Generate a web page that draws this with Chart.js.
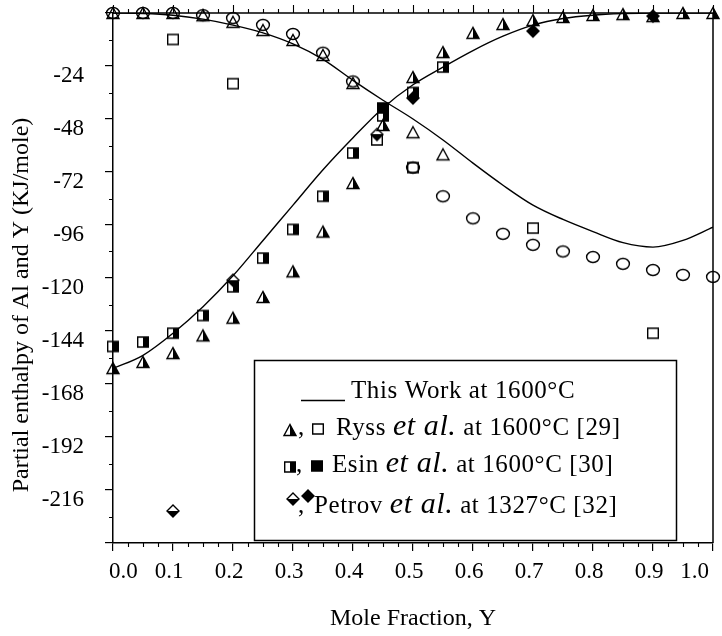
<!DOCTYPE html>
<html>
<head>
<meta charset="utf-8">
<title>Partial enthalpy of Al and Y</title>
<script src="https://cdn.jsdelivr.net/npm/chart.js@4.4.1/dist/chart.umd.min.js"></script>
<style>
    html, body { margin: 0; padding: 0; background: #fff; }
    #wrap { position: relative; width: 722px; height: 636px; }
</style>
</head>
<body>
<div id="wrap"><canvas id="enthalpyChart"></canvas></div>
<script>
(function () {
    'use strict';

    /* ===== Data (mole fraction Y, partial enthalpy kJ/mole) ===== */
    var curveX  = [0, 0.05, 0.1, 0.15, 0.2, 0.25, 0.3, 0.35, 0.4, 0.45, 0.5, 0.55, 0.6, 0.65, 0.7, 0.75, 0.8, 0.85, 0.9, 0.95, 1.0];
    var curveAl = [0, -0.2, -1, -2.8, -5.5, -9, -14, -21, -30.5, -39.5, -48, -57.5, -68, -78, -87, -93.5, -99, -104, -106, -103, -97];
    var curveY  = [-161, -155, -145, -133, -119, -103, -87, -71, -56.5, -43, -32.5, -24.5, -17, -10.5, -5.5, -2.5, -1, -0.3, 0, 0, 0];

    var circleX   = [0, 0.05, 0.1, 0.15, 0.2, 0.25, 0.3, 0.35, 0.4, 0.5, 0.55, 0.6, 0.65, 0.7, 0.75, 0.8, 0.85, 0.9, 0.95, 1.0];
    var circleVal = [0, 0, 0, -1, -2.3, -5.4, -9.5, -18, -31, -70, -83, -93, -100, -105, -108, -110.5, -113.6, -116.4, -118.6, -119.5];

    var openTriX   = [0, 0.05, 0.1, 0.15, 0.2, 0.25, 0.3, 0.35, 0.4, 0.5, 0.55];
    var openTriVal = [0, 0, 0, -1, -4, -7.7, -12.2, -19, -31.7, -54, -64];

    var openSqX   = [0.1, 0.2, 0.44, 0.5, 0.7, 0.9];
    var openSqVal = [-12, -32, -57.5, -70, -97.4, -145];

    var halfTriX   = [0, 0.05, 0.1, 0.15, 0.2, 0.25, 0.3, 0.35, 0.4, 0.45, 0.5, 0.55, 0.6, 0.65, 0.7, 0.75, 0.8, 0.85, 0.9, 0.95, 1.0];
    var halfTriVal = [-160.8, -158, -154, -146, -138, -128.6, -117, -99, -77, -50.7, -29, -17.7, -9, -5, -3.2, -1.8, -0.9, -0.5, -1.4, 0, 0];

    var halfSqX   = [0, 0.05, 0.1, 0.15, 0.2, 0.25, 0.3, 0.35, 0.4, 0.45, 0.5, 0.55];
    var halfSqVal = [-151, -149, -145, -137, -124, -111, -98, -83, -63.4, -46.6, -36, -24.5];

    var fullSqX   = [0.45];
    var fullSqVal = [-43];

    var halfDiaX   = [0.1, 0.2, 0.44];
    var halfDiaVal = [-225.5, -121, -55];

    var fullDiaX   = [0.5, 0.7, 0.9];
    var fullDiaVal = [-38.5, -8.2, -1.4];

    var xTicks = [0, 0.1, 0.2, 0.3, 0.4, 0.5, 0.6, 0.7, 0.8, 0.9, 1.0];
    var yTicks = [-216, -192, -168, -144, -120, -96, -72, -48, -24];

    /* ===== Style ===== */
    var SERIF = "'Liberation Serif','Times New Roman',serif";
    var INK = '#000';

    function pts(xs, ys) {
        var out = [];
        for (var i = 0; i < xs.length; i++) out.push({ x: xs[i], y: ys[i] });
        return out;
    }

    /* ===== Marker glyphs (half-filled shapes are not built in) ===== */
    function marker(kind) {
        var c = document.createElement('canvas');
        c.width = 16; c.height = 16;
        var g = c.getContext('2d');
        g.lineWidth = 1.4;
        g.strokeStyle = INK;
        g.fillStyle = INK;
        g.beginPath();
        if (kind === 'circle') {
            g.ellipse(8, 8, 6.4, 5.5, 0, 0, Math.PI * 2);
            g.stroke();
        } else if (kind.indexOf('tri') === 0) {
            g.moveTo(8, 2.5); g.lineTo(14, 13.5); g.lineTo(2, 13.5); g.closePath();
            g.stroke();
            if (kind === 'triHalf') {
                g.beginPath(); g.moveTo(8, 2.5); g.lineTo(14, 13.5); g.lineTo(8, 13.5); g.closePath(); g.fill();
            }
        } else if (kind.indexOf('sq') === 0) {
            g.rect(2.7, 3, 10.6, 10);
            g.stroke();
            if (kind === 'sqHalf') g.fillRect(8, 3, 5.3, 10);
            if (kind === 'sqFull') g.fillRect(2.7, 3, 10.6, 10);
        } else {
            g.moveTo(8, 2); g.lineTo(14, 8); g.lineTo(8, 14); g.lineTo(2, 8); g.closePath();
            g.stroke();
            g.beginPath();
            if (kind === 'diaHalf') { g.moveTo(2, 8); g.lineTo(14, 8); g.lineTo(8, 14); g.closePath(); g.fill(); }
            if (kind === 'diaFull') { g.moveTo(8, 2); g.lineTo(14, 8); g.lineTo(8, 14); g.lineTo(2, 8); g.closePath(); g.fill(); }
        }
        return c;
    }

    var MARK = {
        circle: marker('circle'),
        triOpen: marker('triOpen'),
        triHalf: marker('triHalf'),
        sqOpen: marker('sqOpen'),
        sqHalf: marker('sqHalf'),
        sqFull: marker('sqFull'),
        diaHalf: marker('diaHalf'),
        diaFull: marker('diaFull')
    };

    function scatterSet(label, xs, ys, glyph) {
        return {
            label: label,
            data: pts(xs, ys),
            showLine: false,
            pointStyle: glyph,
            pointRadius: 6,
            pointHoverRadius: 6,
            clip: false
        };
    }

    function curveSet(label, xs, ys) {
        return {
            label: label,
            data: pts(xs, ys),
            showLine: true,
            borderColor: INK,
            borderWidth: 1.4,
            pointRadius: 0,
            cubicInterpolationMode: 'monotone',
            fill: false
        };
    }

    /* ===== Frame: top/right border, minor ticks, y title ===== */
    var framePlugin = {
        id: 'frame',
        beforeDatasetsDraw: function (chart) {
            var ctx = chart.ctx, a = chart.chartArea;
            var xs = chart.scales.x, ys = chart.scales.y;
            var i, px, py;
            ctx.save();
            ctx.strokeStyle = INK;
            ctx.lineWidth = 1.5;
            ctx.beginPath();
            ctx.moveTo(a.left, a.top); ctx.lineTo(a.right, a.top); ctx.lineTo(a.right, a.bottom);
            ctx.stroke();

            ctx.lineWidth = 1.1;
            ctx.beginPath();
            for (i = 0; i <= 40; i++) {
                px = Math.round(xs.getPixelForValue(i * 0.025)) + 0.5;
                var major = i % 4 === 0;
                if (!major) { ctx.moveTo(px, a.bottom); ctx.lineTo(px, a.bottom + 4); }
                ctx.moveTo(px, a.top); ctx.lineTo(px, a.top - (major ? 8 : 4));
            }
            for (i = 0; i < 10; i++) {
                py = Math.round(ys.getPixelForValue(-12 - 24 * i)) + 0.5;
                ctx.moveTo(a.left, py); ctx.lineTo(a.left - 4, py);
            }
            ctx.stroke();

            // y axis title sits a bit below the plot's mid-height in the original
            ctx.translate(22, 305);
            ctx.rotate(-Math.PI / 2);
            ctx.fillStyle = INK;
            ctx.font = '24px ' + SERIF;
            ctx.textAlign = 'center';
            ctx.textBaseline = 'middle';
            ctx.fillText('Partial enthalpy of Al and Y (KJ/mole)', 0, 0);
            ctx.restore();
        }
    };

    /* ===== Boxed legend inside the plot ===== */
    function richText(ctx, x, y, parts) {
        for (var i = 0; i < parts.length; i++) {
            ctx.font = parts[i].it ? 'italic 30px ' + SERIF : '25px ' + SERIF;
            ctx.fillText(parts[i].t, x, y);
            x += ctx.measureText(parts[i].t).width;
        }
    }

    function glyphAt(ctx, glyph, x, y) {
        ctx.drawImage(glyph, x - glyph.width / 2, y - glyph.height / 2);
    }

    var legendPlugin = {
        id: 'boxLegend',
        afterDatasetsDraw: function (chart) {
            var ctx = chart.ctx;
            ctx.save();
            ctx.fillStyle = '#fff';
            ctx.fillRect(254, 360, 422, 180);
            ctx.strokeStyle = INK;
            ctx.lineWidth = 1.5;
            ctx.strokeRect(254.5, 360.5, 422, 180);

            ctx.fillStyle = INK;
            ctx.textBaseline = 'alphabetic';
            if ('letterSpacing' in ctx) ctx.letterSpacing = '0.6px';

            ctx.lineWidth = 1.4;
            ctx.beginPath(); ctx.moveTo(301, 400.5); ctx.lineTo(345, 400.5); ctx.stroke();
            richText(ctx, 351, 398, [{ t: 'This Work at 1600\u00B0C' }]);

            glyphAt(ctx, MARK.triHalf, 290, 430);
            richText(ctx, 298, 435, [{ t: ',' }]);
            glyphAt(ctx, MARK.sqOpen, 318, 429);
            richText(ctx, 336, 435, [{ t: 'Ryss ' }, { t: 'et al.', it: true }, { t: ' at 1600\u00B0C [29]' }]);

            glyphAt(ctx, MARK.sqHalf, 290, 467);
            richText(ctx, 296, 472, [{ t: ',' }]);
            glyphAt(ctx, MARK.sqFull, 317, 466);
            richText(ctx, 332, 472, [{ t: 'Esin ' }, { t: 'et al.', it: true }, { t: ' at 1600\u00B0C [30]' }]);

            glyphAt(ctx, MARK.diaHalf, 293, 499);
            richText(ctx, 298, 513, [{ t: ',' }]);
            glyphAt(ctx, MARK.diaFull, 308, 496);
            richText(ctx, 314, 513, [{ t: 'Petrov ' }, { t: 'et al.', it: true }, { t: ' at 1327\u00B0C [32]' }]);
            ctx.restore();
        }
    };

    /* ===== Chart ===== */
    var tickFont = { family: SERIF, size: 23, lineHeight: 1 };
    var titleFont = { family: SERIF, size: 24 };

    new Chart(document.getElementById('enthalpyChart'), {
        type: 'scatter',
        data: {
            datasets: [
                curveSet('This Work at 1600\u00B0C (Al)', curveX, curveAl),
                curveSet('This Work at 1600\u00B0C (Y)', curveX, curveY),
                scatterSet('Al (circles)', circleX, circleVal, MARK.circle),
                scatterSet('Al (triangles)', openTriX, openTriVal, MARK.triOpen),
                scatterSet('Ryss et al. (Al)', openSqX, openSqVal, MARK.sqOpen),
                scatterSet('Ryss et al. (Y)', halfTriX, halfTriVal, MARK.triHalf),
                scatterSet('Esin et al. (Y)', halfSqX, halfSqVal, MARK.sqHalf),
                scatterSet('Esin et al.', fullSqX, fullSqVal, MARK.sqFull),
                scatterSet('Petrov et al. (Y)', halfDiaX, halfDiaVal, MARK.diaHalf),
                scatterSet('Petrov et al.', fullDiaX, fullDiaVal, MARK.diaFull)
            ]
        },
        options: {
            responsive: true,
            maintainAspectRatio: false,
            animation: false,
            layout: { padding: { top: 13, right: 5, left: 0, bottom: 0 } },
            plugins: { legend: { display: false }, tooltip: { enabled: false } },
            scales: {
                x: {
                    type: 'linear',
                    min: 0, max: 1,
                    afterFit: function (s) { s.height = 93; },
                    afterBuildTicks: function (s) { s.ticks = xTicks.map(function (v) { return { value: v }; }); },
                    border: { display: true, color: INK, width: 1.5 },
                    grid: { drawOnChartArea: false, drawTicks: true, tickLength: 8, color: INK, lineWidth: 1.2 },
                    ticks: {
                        align: 'inner', labelOffset: -4, padding: 9, color: INK, font: tickFont,
                        maxRotation: 0, autoSkip: false,
                        callback: function (v) { return Number(v).toFixed(1); }
                    },
                    title: { display: true, text: 'Mole Fraction, Y', color: INK, font: titleFont, padding: { top: 0, bottom: 3 } }
                },
                y: {
                    type: 'linear',
                    min: -240, max: 0,
                    afterFit: function (s) { s.width = 113; s.paddingTop = 0; s.paddingBottom = 0; },
                    afterBuildTicks: function (s) { s.ticks = [-240].concat(yTicks, [0]).map(function (v) { return { value: v }; }); },
                    border: { display: true, color: INK, width: 1.5 },
                    grid: { drawOnChartArea: false, drawTicks: true, tickLength: 8, color: INK, lineWidth: 1.2 },
                    ticks: {
                        padding: 21, labelOffset: 10, color: INK, font: tickFont, autoSkip: false,
                        callback: function (v) { return (v === 0 || v === -240) ? '' : String(v); }
                    },
                    title: { display: false }
                }
            }
        },
        plugins: [framePlugin, legendPlugin]
    });
})();
</script>
</body>
</html>
